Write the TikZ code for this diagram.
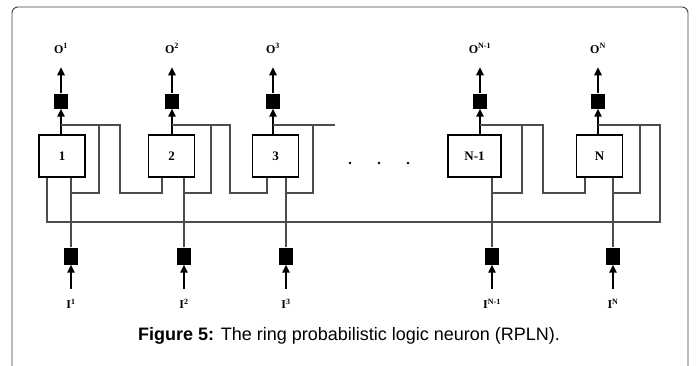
\documentclass[tikz,border=0pt]{standalone}
\usepackage{fontspec}
\setmainfont{Liberation Serif}
\newfontfamily\capfont{Liberation Sans}
\usepackage{tikz}
\usetikzlibrary{arrows.meta,
positioning}

\begin{document}
\begin{tikzpicture}[
		x=1pt, y=-1pt,
		>={Triangle[length=8pt,width=7.5pt]},
		neuron/.style={
			draw,
			line width=1.8pt,
			minimum width=46pt,
			minimum height=42pt,
			inner sep=0pt,
			font=\fontsize{13}{15}\selectfont\bfseries
		},
		gate/.style={
			fill=black,
			minimum width=14pt,
			minimum height=15pt,
			inner sep=0pt
		},
		ingate/.style={
			gate,
			minimum height=17pt
		},
		sig/.style={
			inner sep=1pt,
			text height=8pt,
			text depth=0pt,
			font=\fontsize{12}{14}\selectfont\bfseries
		},
		wire/.style={
			draw=black!70,
			line width=1.1pt
		},
		arr/.style={
			->,
			line width=1.5pt
		},
		dot/.style={
			circle,
			fill=black,
			minimum size=2.6pt,
			inner sep=0pt
		}
		]
		
		\useasboundingbox (0,0) rectangle (696,365);
		
		% Frame
		\begin{scope}
			\clip (0,0) rectangle (696,365);
			\draw[black!75, line width=0.9pt, rounded corners=6pt] (12,7) rectangle (688,372);
		\end{scope}
		
		% Levels of the wiring
		\coordinate (top) at (0,125);
		\coordinate (fb) at (0,193);
		\coordinate (ring) at (0,222);
		
		% Neurons
		\node[neuron] (n1) at (62,156) {1};
		\node[neuron] (n2) at (171.5,156) {2};
		\node[neuron] (n3) at (275.5,156) {3};
		\node[neuron, minimum width=53pt] (nm) at (474.5,156) {N-1};
		\node[neuron] (nn) at (599.5,156) {N};
		
		% Dots
		\node[dot] (d1) at (350,163) {};
		\node[dot] (d2) at (379,163) {};
		\node[dot] (d3) at (408,163) {};
		
		% Output gates and labels
		\node[gate] (g1) at (61,101) {};
		\node[gate] (g2) at (172,101) {};
		\node[gate] (g3) at (273,101) {};
		\node[gate] (gm) at (480,101) {};
		\node[gate] (gn) at (598,101) {};
		
		\node[sig, above=39pt of g1] (o1) {O\textsuperscript{1}};
		\node[sig, above=39pt of g2] (o2) {O\textsuperscript{2}};
		\node[sig, above=39pt of g3] (o3) {O\textsuperscript{3}};
		\node[sig, above=39pt of gm] (om) {O\textsuperscript{N-1}};
		\node[sig, above=39pt of gn] (on) {O\textsuperscript{N}};
		
		% Input gates and labels
		\node[ingate] (ig1) at (71,256) {};
		\node[ingate] (ig2) at (184,256) {};
		\node[ingate] (ig3) at (286,256) {};
		\node[ingate] (igm) at (492,256) {};
		\node[ingate] (ign) at (613,256) {};
		
		\node[sig, below=35pt of ig1] (i1) {I\textsuperscript{1}};
		\node[sig, below=35pt of ig2] (i2) {I\textsuperscript{2}};
		\node[sig, below=35pt of ig3] (i3) {I\textsuperscript{3}};
		\node[sig, below=35pt of igm] (im) {I\textsuperscript{N-1}};
		\node[sig, below=35pt of ign] (in) {I\textsuperscript{N}};
		
		% Caption
		\node[font=\capfont\fontsize{18}{21}\selectfont] (cap) at (349,336)
		{\textbf{Figure 5:} The ring probabilistic logic neuron (RPLN).};
		
		% Outputs
		\draw[arr] (n1.north -| g1) -- (g1.south);
		\draw[arr] (n2.north -| g2) -- (g2.south);
		\draw[arr] (n3.north -| g3) -- (g3.south);
		\draw[arr] (nm.north -| gm) -- (gm.south);
		\draw[arr] (nn.north -| gn) -- (gn.south);
		
		\draw[arr, shorten >=13pt] (g1) -- (o1);
		\draw[arr, shorten >=13pt] (g2) -- (o2);
		\draw[arr, shorten >=13pt] (g3) -- (o3);
		\draw[arr, shorten >=13pt] (gm) -- (om);
		\draw[arr, shorten >=13pt] (gn) -- (on);
		
		% Inputs
		\draw[arr, shorten <=11pt] (i1) -- (ig1);
		\draw[arr, shorten <=11pt] (i2) -- (ig2);
		\draw[arr, shorten <=11pt] (i3) -- (ig3);
		\draw[arr, shorten <=11pt] (im) -- (igm);
		\draw[arr, shorten <=11pt] (in) -- (ign);
		
		\draw[wire] (ig1.north) -- (ig1 |- n1.south);
		\draw[wire] (ig2.north) -- (ig2 |- n2.south);
		\draw[wire] (ig3.north) -- (ig3 |- n3.south);
		\draw[wire] (igm.north) -- (igm |- nm.south);
		\draw[wire] (ign.north) -- (ign |- nn.south);
		
		% Self feedback
		\draw[wire] (g1 |- top) -| (99,193) -- (ig1 |- fb);
		\draw[wire] (g2 |- top) -| (211,193) -- (ig2 |- fb);
		\draw[wire] (g3 |- top) -| (313,193) -- (ig3 |- fb);
		\draw[wire] (gm |- top) -| (522,193) -- (igm |- fb);
		\draw[wire] (gn |- top) -| (640,193) -- (ign |- fb);
		
		% Neighbour links
		\draw[wire] (g1 |- top) -| (120,193) -| (n2.south -| 162,0);
		\draw[wire] (g2 |- top) -| (230,193) -| (n3.south -| 267,0);
		\draw[wire] (g3 |- top) -- (335,125);
		\draw[wire] (gm |- top) -| (543,193) -| (nn.south -| 585,0);
		
		% Ring back to the first neuron
		\draw[wire] (gn |- top) -| (660,222) -| (n1.south -| 47,0);
		
	\end{tikzpicture}
\end{document}
